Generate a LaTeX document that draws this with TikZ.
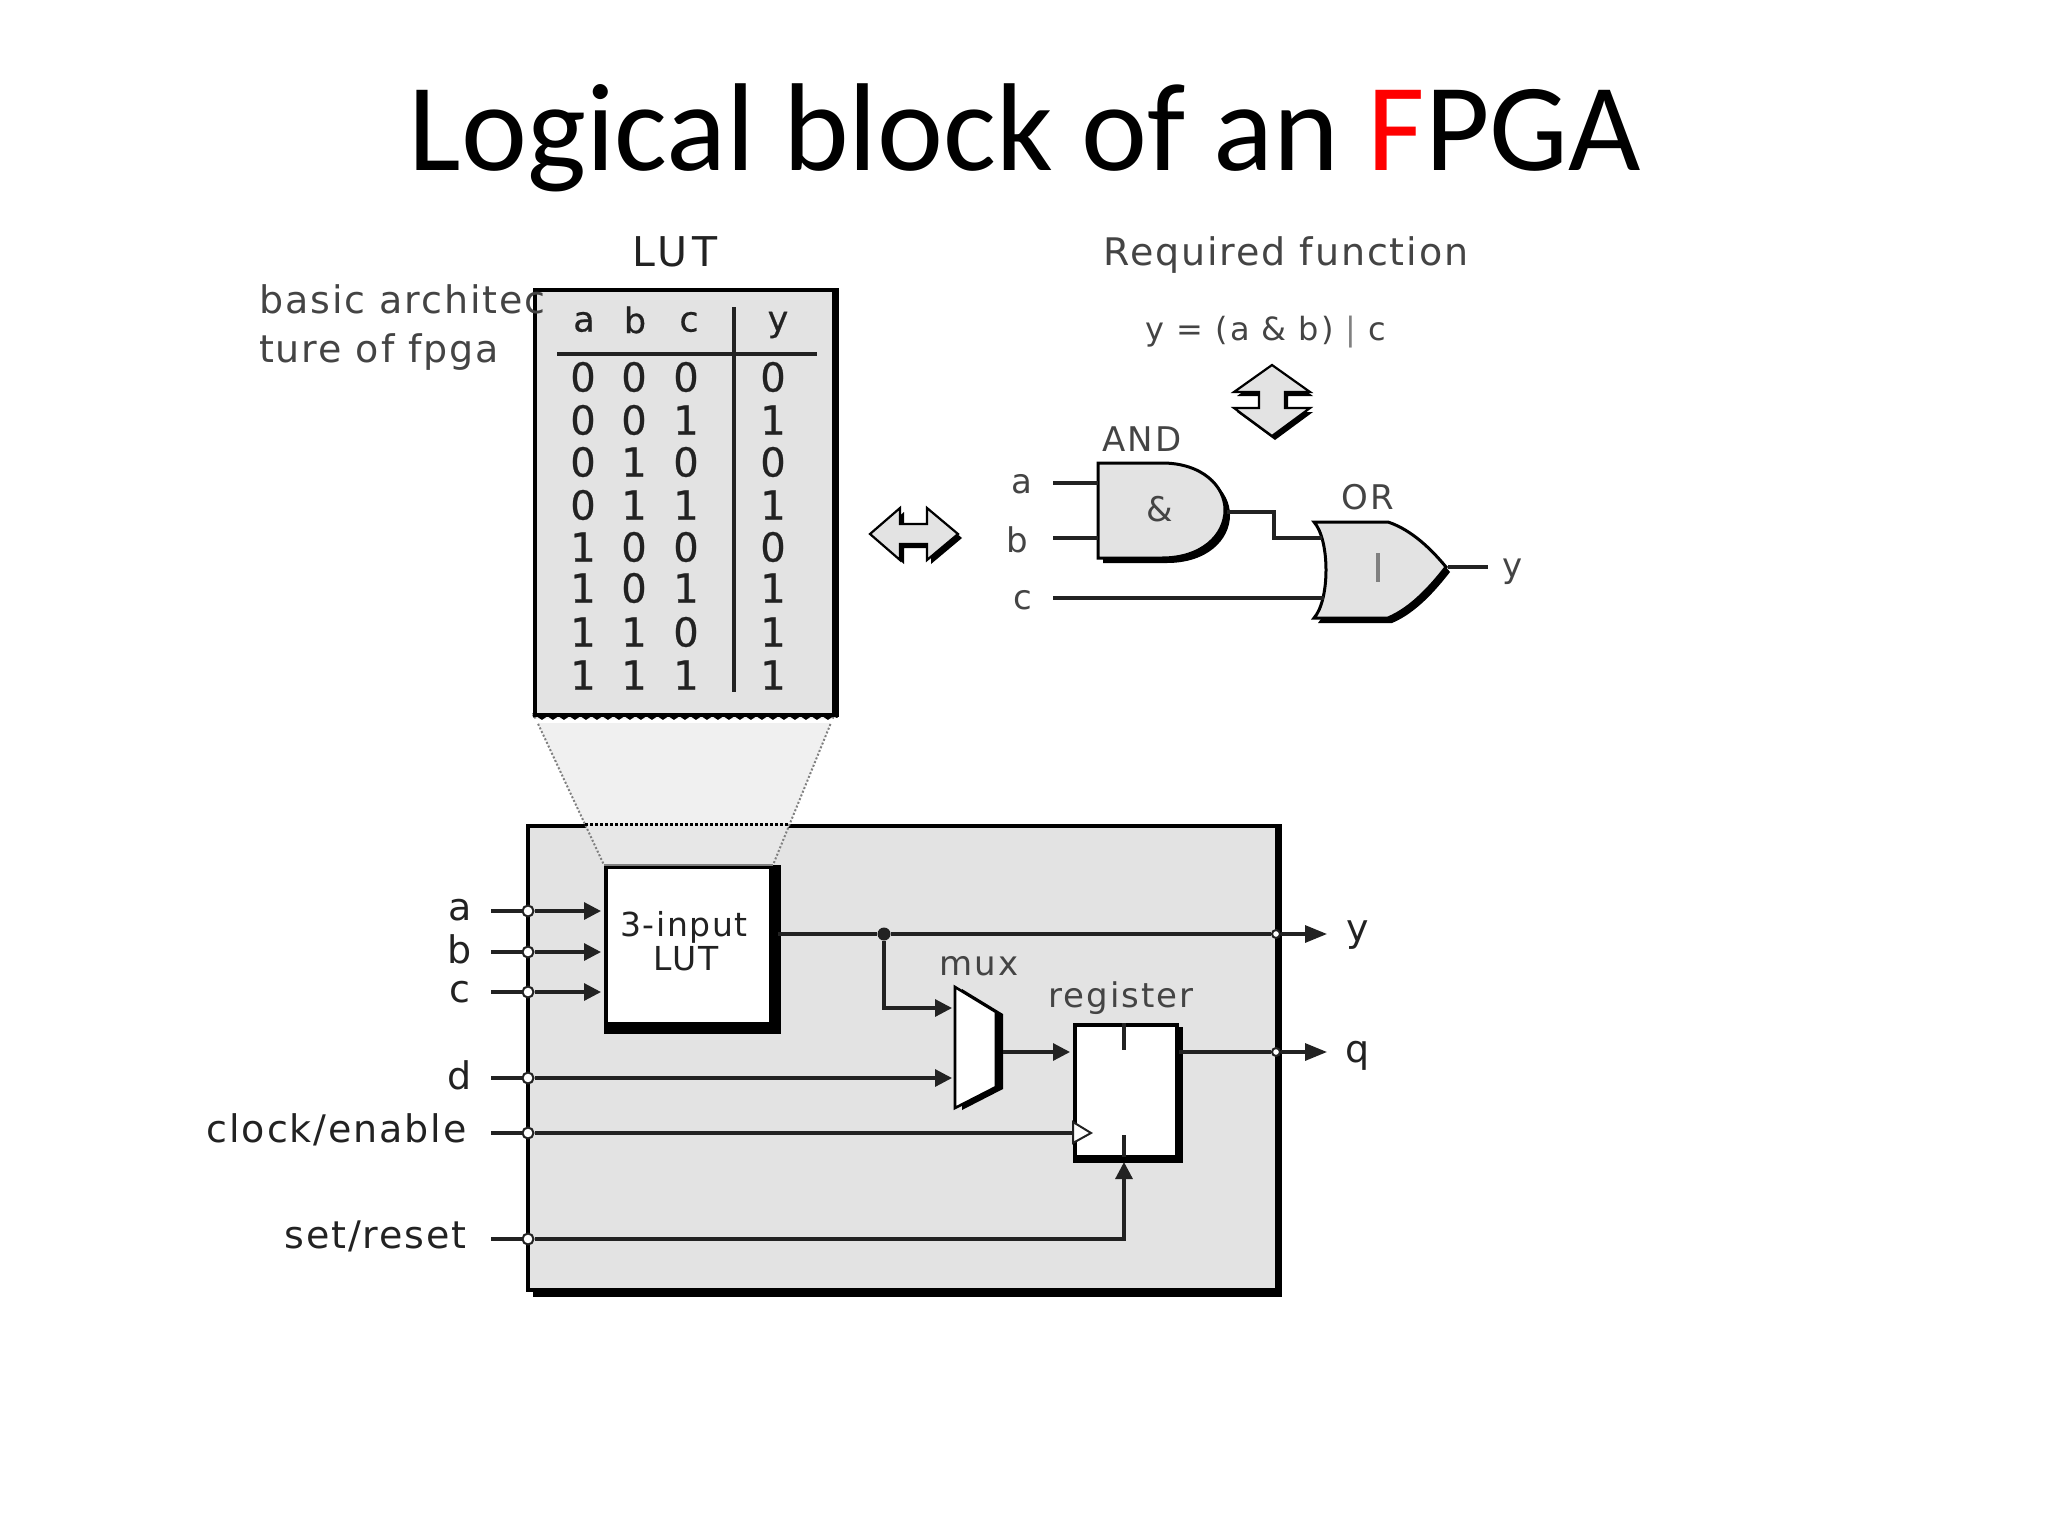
\documentclass[tikz,border=0pt]{standalone}
\usepackage{fontspec}
\setmainfont{DejaVu Sans}
\newfontfamily\titlefont{Carlito}
\newfontfamily\lblfont[LetterSpace=5]{DejaVu Sans}
\newfontfamily\smfont[LetterSpace=6]{DejaVu Sans}
\newfontfamily\widefont[LetterSpace=12]{DejaVu Sans}
\newfontfamily\cellfont[FakeBold=0.5]{DejaVu Sans}
\usetikzlibrary{arrows.meta,decorations.pathmorphing,calc}
\definecolor{panel}{HTML}{E3E3E3}
\definecolor{ink}{HTML}{222222}
\definecolor{soft}{HTML}{444444}
\definecolor{pale}{HTML}{F0F0F0}
\newcommand{\fs}[1]{\fontsize{#1}{#1}\selectfont}
\tikzset{
  txt/.style={inner sep=0pt,text=ink,font=\lblfont\fs{38}},
  smalltxt/.style={inner sep=0pt,text=soft,font=\smfont\fs{34}},
  cell/.style={inner sep=0pt,text=ink,font=\cellfont\fs{40}},
  head/.style={inner sep=0pt,text=ink,font=\cellfont\fs{35}},
  wire/.style={line width=3.2pt,draw=ink},
  sig/.style={wire,-{Triangle[length=17pt,width=17pt]},shorten >=3pt},
  pin/.style={circle,draw=ink,fill=white,line width=2pt,minimum size=11pt,inner sep=0pt},
  box/.style={rectangle,inner sep=0pt,draw=black,line width=3.6pt,anchor=north west},
  gatefill/.style={fill=panel,draw=black,line width=3pt},
  heavy/.style={line width=#1,draw=black},
}
\begin{document}
\begin{tikzpicture}[x=1pt,y=-1pt]
\useasboundingbox (0,0) rectangle (2048,1536);
\node[inner sep=0pt,font=\titlefont\fs{125}] (title) at (1025,138) {Logical block of an {\color{red}F}PGA};

% main block
\node[box,fill=panel,minimum width=749pt,minimum height=464pt] (main) at (526,824) {};
\draw[heavy=5pt] ($(main.north east)+(1,0)$) -- ($(main.south east)+(1,3)$) -- ($(main.south west)+(7,3)$);

% zoom trapezoid
\coordinate (tl) at (533,713); \coordinate (tr) at (835,713);
\coordinate (bl) at (604,865); \coordinate (br) at (773,865);
\coordinate (ml) at (585,824); \coordinate (mr) at (789,824);
\fill[pale] (tl) -- (tr) -- (br) -- (bl) -- cycle;
\fill[panel!70!pale] (ml) -- (mr) -- (br) -- (bl) -- cycle;
\draw[gray,line width=2pt,dotted] (tl) -- (bl);
\draw[gray,line width=2pt,dotted] (tr) -- (br);
\draw[black,line width=3pt,dotted] (ml) -- (mr);

% LUT table
\node[box,fill=panel,minimum width=299pt,minimum height=425pt] (lut) at (533,288) {};
\draw[heavy=5pt] ($(lut.north east)+(1,0)$) -- ($(lut.south east)+(1,0)$);
\fill[white] ($(lut.south west)+(-2,2)$) rectangle ($(lut.south east)+(6,6)$);
\draw[black,line width=2.5pt,decorate,decoration={snake,segment length=11pt,amplitude=1.8pt}] (lut.south west) -- ($(lut.south east)+(2,0)$);
\coordinate (hl) at (557,354); \coordinate (hr) at (817,354);
\coordinate (vt) at (734,307); \coordinate (vb) at (734,692);
\draw[wire] (hl) -- (hr);
\draw[wire] (vt) -- (vb);
\node[inner sep=0pt,text=ink,font=\widefont\fs{41}] (lutlabel) at (675,252) {LUT};
\node[head] (ha) at (584,322) {a};
\node[head] (hb) at (635,320) {b};
\node[head] (hc) at (689,322) {c};
\node[head] (hy) at (778,325) {y};
\foreach \r/\y/\va/\vb/\vc/\vd in {1/377/0/0/0/0,2/420/0/0/1/1,3/462/0/1/0/0,4/505/0/1/1/1,5/547/1/0/0/0,6/588/1/0/1/1,7/632/1/1/0/1,8/675/1/1/1/1}{
  \node[cell] (ca\r) at (583,\y) {\va};
  \node[cell] (cb\r) at (634,\y) {\vb};
  \node[cell] (cc\r) at (686,\y) {\vc};
  \node[cell] (cd\r) at (773,\y) {\vd};
}
\node[txt,anchor=west,text=soft] (arch1) at (259,299) {basic architec};
\node[txt,anchor=west,text=soft] (arch2) at (259,352) {ture of fpga};

% required function
\node[txt,text=soft] (req) at (1286,255) {Required function};
\node[smalltxt,font=\smfont\fs{32}] (eq) at (1266,332) {y = (a \& b) {\color{gray}|} c};

% vertical double arrow
\begin{scope}[shift={(1272,402)}]
\def\dv{(0,-37) -- (38,-10) -- (13,-10) -- (13,6) -- (38,6) -- (0,34) -- (-38,6) -- (-13,6) -- (-13,-10) -- (-38,-10) -- cycle}
\fill[black] [shift={(3,4)}] \dv;
\draw[fill=panel,draw=black,line width=2.2pt] \dv;
\end{scope}
% horizontal double arrow
\begin{scope}[shift={(914,534)}]
\def\dh{(-44,0) -- (-14,-26) -- (-14,-10) -- (13,-10) -- (13,-26) -- (44,0) -- (13,26) -- (13,10) -- (-14,10) -- (-14,26) -- cycle}
\fill[black] [shift={(4,4)}] \dh;
\draw[fill=panel,draw=black,line width=2.2pt] \dh;
\end{scope}

% AND gate
\def\andshape{(1098,463) -- (1162,463) .. controls (1202,463) and (1225,486) .. (1225,510) .. controls (1225,535) and (1202,558) .. (1162,558) -- (1098,558) -- cycle}
\fill[black] [shift={(5,5)}] \andshape;
\draw[gatefill] \andshape;
\coordinate (ana) at (1098,483); \coordinate (anb) at (1098,538); \coordinate (ano) at (1227,512);
\node[smalltxt] (andl) at (1142,439) {AND};
\node[smalltxt] (amp) at (1160,509) {\&};
% OR gate
\def\orshape{(1314,522) -- (1388,522) .. controls (1412,530) and (1432,550) .. (1446,567) .. controls (1432,585) and (1412,608) .. (1388,618) -- (1314,618) .. controls (1330,600) and (1330,540) .. (1314,522) -- cycle}
\fill[black] [shift={(4,5)}] \orshape;
\draw[gatefill] \orshape;
\coordinate (orb) at (1322,538); \coordinate (orc) at (1324,598); \coordinate (oro) at (1448,567);
\node[smalltxt] (orl) at (1368,497) {OR};
\draw[gray,line width=4pt] (1378,553) -- (1378,582);
% gate wires
\coordinate (ia) at (1053,483); \coordinate (ib) at (1053,538); \coordinate (ic) at (1053,598); \coordinate (oy) at (1488,567);
\draw[wire] (ia) -- (ana);
\draw[wire] (ib) -- (anb);
\draw[wire] (ic) -- (orc);
\draw[wire] (oro) -- (oy);
\draw[wire] (ano) -| (1274,538) -- (orb);
\node[smalltxt] (la) at (1022,484) {a};
\node[smalltxt] (lb) at (1017,540) {b};
\node[smalltxt] (lc) at (1023,600) {c};
\node[smalltxt] (ly) at (1513,572) {y};

% 3-input LUT block
\node[box,draw=black,fill=white,minimum width=165pt,minimum height=157pt] (blk) at (604,865) {};
\draw[gray,line width=2pt] (blk.north west) -- (blk.north east);
\draw[heavy=8pt] ($(blk.north east)+(4,0)$) -- ($(blk.south east)+(4,4)$) -- ($(blk.south west)+(0,4)$);
\node[inner sep=0pt,text=ink,font=\lblfont\fs{33}] (blk1) at (684,927) {3-input};
\node[inner sep=0pt,text=ink,font=\lblfont\fs{33}] (blk2) at (686,959) {LUT};

% mux
\def\muxshape{(955,987) -- (996,1012) -- (996,1087) -- (955,1108) -- cycle}
\fill[black] [shift={(7,2)}] \muxshape;
\draw[fill=white,draw=black,line width=2.6pt] \muxshape;
\coordinate (mi1) at (955,1008); \coordinate (mi2) at (955,1077); \coordinate (mo) at (1003,1052);
\node[smalltxt] (muxl) at (979,966) {mux};

% register
\node[box,fill=white,minimum width=102pt,minimum height=132pt] (reg) at (1073,1023) {};
\draw[heavy=4.5pt] ($(reg.north east)+(2,4)$) -- ($(reg.south east)+(2,2)$) -- ($(reg.south west)+(0,2)$);
\node[smalltxt] (regl) at (1121,998) {register};
\coordinate (rt) at (1124,1023); \coordinate (rtb) at (1124,1050);
\coordinate (rb) at (1124,1157); \coordinate (rbt) at (1124,1135);
\draw[wire] (rt) -- (rtb);
\draw[wire] (rb) -- (rbt);
\draw[draw=ink,fill=white,line width=2pt] (1073,1122) -- (1091,1133) -- (1073,1143) -- cycle;
\coordinate (rd) at (1073,1052); \coordinate (rclk) at (1073,1133); \coordinate (rq) at (1179,1052);
\coordinate (rs) at (1124,1162);

% pins
\foreach \n/\y in {a/911,b/952,c/992,d/1078,e/1133,s/1239}{
  \coordinate (st\n) at (491,\y);
  \node[pin] (p\n) at (528,\y) {};
}
\coordinate (blka) at (604,911); \coordinate (blkb) at (604,952); \coordinate (blkc) at (604,992);
\coordinate (blko) at (778,934);
\node[pin,minimum size=8pt] (py) at (1276,934) {};
\node[pin,minimum size=8pt] (pq) at (1276,1052) {};
\coordinate (oyy) at (1327,934); \coordinate (oqq) at (1327,1052);
\node[circle,fill=ink,minimum size=13pt,inner sep=0pt] (jn) at (884,934) {};

\draw[wire] (sta) -- (pa); \draw[sig] (pa) -- (blka);
\draw[wire] (stb) -- (pb); \draw[sig] (pb) -- (blkb);
\draw[wire] (stc) -- (pc); \draw[sig] (pc) -- (blkc);
\draw[wire] (std) -- (pd); \draw[sig] (pd.east) -- (pd.east -| mi2);
\draw[wire] (ste) -- (pe); \draw[wire] (pe) -- (rclk);
\draw[wire] (sts) -- (ps);
\draw[sig,shorten >=0pt] (ps) -| (rs);
\draw[wire] (blko) -- (jn); \draw[wire] (jn) -- (py);
\draw[sig] (jn) |- (mi1);
\draw[sig] (mo) -- (rd);
\draw[wire] (rq) -- (pq);
\draw[sig,shorten >=0pt,-{Triangle[length=22pt,width=17pt]}] (py) -- (oyy);
\draw[sig,shorten >=0pt,-{Triangle[length=22pt,width=17pt]}] (pq) -- (oqq);

\node[txt] (lpa) at (460,910) {a};
\node[txt] (lpb) at (460,949) {b};
\node[txt] (lpc) at (460,992) {c};
\node[txt] (lpd) at (460,1075) {d};
\node[txt,anchor=east] (lpe) at (467,1130) {clock/enable};
\node[txt,anchor=east] (lps) at (467,1236) {set/reset};
\node[txt] (lpy) at (1358,935) {y};
\node[txt] (lpq) at (1358,1056) {q};
\end{tikzpicture}
\end{document}
